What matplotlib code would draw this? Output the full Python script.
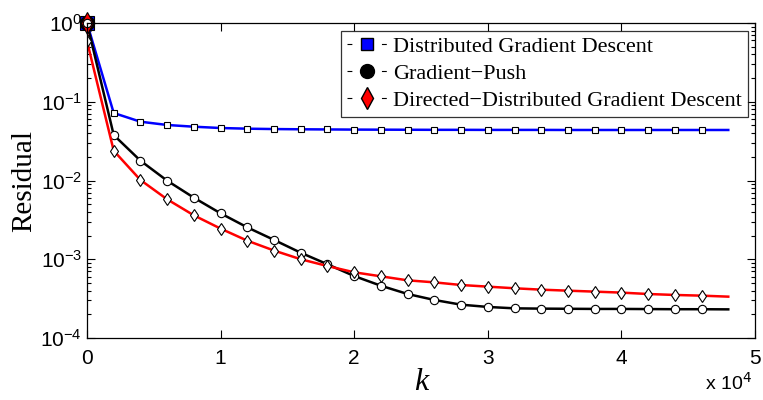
import numpy as np
import matplotlib.pyplot as plt
from matplotlib.lines import Line2D
from matplotlib.ticker import LogLocator, NullFormatter, FixedLocator

# iterations (every 2000)
k = np.arange(0, 50000, 2000)

dgd = [1.0, 0.072, 0.0558, 0.0507, 0.0482, 0.0464, 0.0455, 0.0450, 0.0447, 0.0445,
       0.0443, 0.0442, 0.0441, 0.0440, 0.0440, 0.0439, 0.0439, 0.0439, 0.0438, 0.0438,
       0.0438, 0.0438, 0.0438, 0.0438, 0.0438]
gpush = [1.0, 0.0378, 0.01786, 0.00995, 0.00605, 0.00383, 0.00254, 0.00176, 0.00121,
         0.000863, 0.000612, 0.000461, 0.000362, 0.000304, 0.000265, 0.000248, 0.000238,
         0.000236, 0.000235, 0.000234, 0.000234, 0.000233, 0.000232, 0.000232, 0.000231]
ddgd = [0.59, 0.0239, 0.01015, 0.00577, 0.00361, 0.00245, 0.00172, 0.00129, 0.00100,
        0.00082, 0.000683, 0.000607, 0.00054, 0.000509, 0.000471, 0.000449, 0.000428,
        0.000411, 0.000399, 0.000388, 0.000377, 0.000362, 0.000352, 0.000345, 0.000335]
start_value = 1.0

labels = ['Distributed Gradient Descent', 'Gradient\u2212Push',
          'Directed\u2212Distributed Gradient Descent']

plt.rcParams['font.family'] = ['Liberation Sans', 'DejaVu Sans']
plt.rcParams['lines.scale_dashes'] = False

fig = plt.figure(figsize=(7.63, 4.0), dpi=100)
ax = fig.add_axes([0.114, 0.155, 0.8755, 0.7875])

mk = dict(markerfacecolor='white', markeredgecolor='black', markeredgewidth=0.8,
          markevery=slice(0, -1))
ax.plot(k, dgd, color='blue', lw=1.8, marker='s', ms=5, **mk)
ax.plot(k, gpush, color='black', lw=1.8, marker='o', ms=6, **mk)
ax.plot(np.r_[0, k], np.r_[start_value, ddgd], color='red', lw=1.8, marker='d', ms=6,
        markerfacecolor='white', markeredgecolor='black', markeredgewidth=0.8,
        markevery=slice(1, -1))

# big start markers
ax.plot([0], [start_value], 's', ms=10, mfc='blue', mec='black', mew=0.8, clip_on=False)
ax.plot([0], [start_value], 'o', ms=10, mfc='black', mec='black', clip_on=False)
ax.plot([0], [start_value], 'd', ms=11, mfc='red', mec='black', mew=0.8, clip_on=False)
ax.plot([0], [start_value], 'o', ms=6, mfc='white', mec='black', mew=0.8, clip_on=False)

ax.set_yscale('log')
ax.set_xlim(0, 50000)
ax.set_ylim(1e-4, 1e0)
ax.xaxis.set_major_locator(FixedLocator(np.arange(0, 50001, 10000)))
ax.set_xticklabels(['0', '1', '2', '3', '4', '5'])
ax.yaxis.set_major_locator(LogLocator(base=10, numticks=10))
ax.yaxis.set_minor_locator(LogLocator(base=10, subs=np.arange(2, 10), numticks=10))
ax.yaxis.set_minor_formatter(NullFormatter())
ax.tick_params(which='both', direction='in', top=True, right=True, labelsize=15, width=0.8)
ax.tick_params(which='major', length=6)
ax.tick_params(which='minor', length=3)
ax.tick_params(axis='x', pad=8)
for s in ax.spines.values():
    s.set_linewidth(0.9)

ax.set_ylabel('Residual', family='Liberation Serif', fontsize=21, labelpad=2)
ax.set_xlabel('k', family='Liberation Serif', style='italic', fontsize=23, labelpad=0)
fig.text(0.985, 0.015, 'x 10$^4$', ha='right', va='bottom', fontsize=14,
         family='Liberation Sans')

dash = (0, (3.5, 21.3, 3.5, 100))
handles = [
    Line2D([], [], color='black', lw=0.8, ls=dash, marker='s', ms=9, mfc='blue', mec='black'),
    Line2D([], [], color='black', lw=0.8, ls=dash, marker='o', ms=10, mfc='black', mec='black'),
    Line2D([], [], color='black', lw=0.8, ls=dash, marker='d', ms=11, mfc='red', mec='black'),
]
leg = ax.legend(handles, labels, loc='upper right', bbox_to_anchor=(0.996, 0.99),
                prop={'family': 'Liberation Serif', 'size': 16}, frameon=True,
                fancybox=False, edgecolor='black', handlelength=1.8, handletextpad=0.3,
                borderpad=0.25, labelspacing=0.3, borderaxespad=0.2)
leg.get_frame().set_linewidth(0.9)

fig.savefig('out.png', dpi=100)
